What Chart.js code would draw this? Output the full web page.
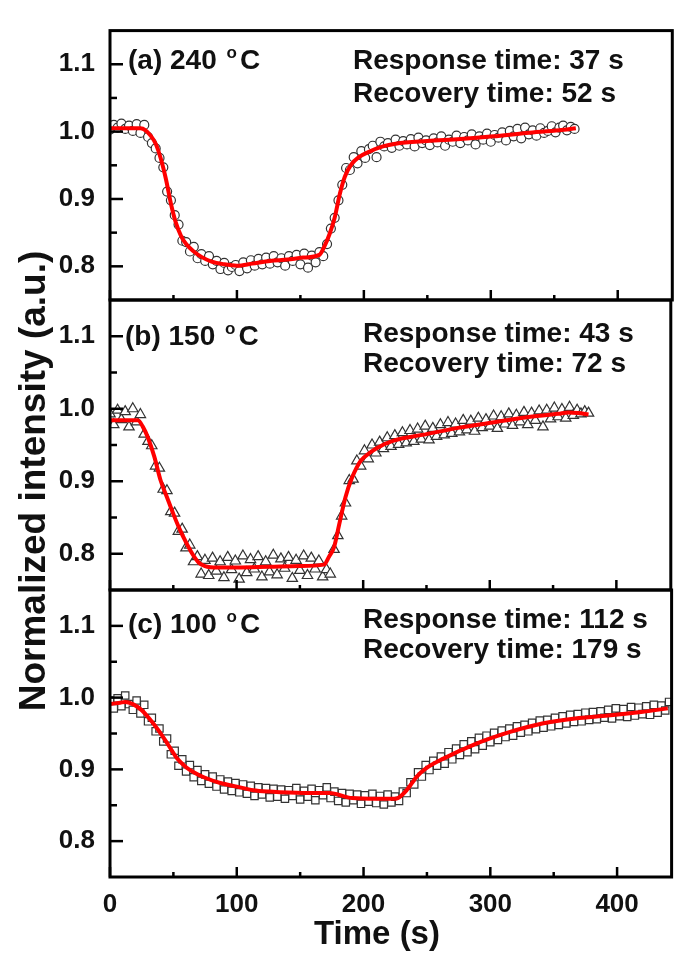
<!DOCTYPE html>
<html><head><meta charset="utf-8">
<script src="https://cdn.jsdelivr.net/npm/chart.js@4/dist/chart.umd.min.js"></script>
<style>
html,body{margin:0;padding:0;background:#fff;}
#wrap{position:relative;width:678px;height:953px;background:#fff;}
#wrap canvas{position:absolute;left:0;top:0;}
</style></head><body>
<div id="wrap">
<canvas id="ca" width="678" height="953"></canvas>
<canvas id="cb" width="678" height="953"></canvas>
<canvas id="cc" width="678" height="953"></canvas>
</div>
<script>
// ---------- data ----------
const timeS = [0,3,6,9,12,15,18,21,24,27,
30,33,36,39,42,45,48,51,54,57,
60,63,66,69,72,75,78,81,84,87,
90,93,96,99,102,105,108,111,114,117,
120,123,126,129,132,135,138,141,144,147,
150,153,156,159,162,165,168,171,174,177,
180,183,186,189,192,195,198,201,204,207,
210,213,216,219,222,225,228,231,234,237,
240,243,246,249,252,255,258,261,264,267,
270,273,276,279,282,285,288,291,294,297,
300,303,306,309,312,315,318,321,324,327,
330,333,336,339,342,345,348,351,354,357,
360,363,366,369,372,375,378,381,384,387,
390,393,396,399,402,405,408,411,414,417,
420,423,426,429,432,435,438,441];

const intensityA = [1.003,1.010,1.006,1.012,1.004,1.009,1.001,1.011,0.998,1.010,
0.992,0.983,0.975,0.961,0.947,0.911,0.898,0.876,0.862,0.838,
0.836,0.822,0.829,0.812,0.818,0.808,0.815,0.803,0.808,0.796,
0.805,0.794,0.799,0.802,0.793,0.806,0.797,0.809,0.801,0.811,
0.803,0.813,0.804,0.815,0.806,0.812,0.801,0.815,0.808,0.817,
0.803,0.819,0.798,0.816,0.806,0.821,0.815,0.833,0.856,0.872,
0.898,0.921,0.946,0.943,0.962,0.953,0.971,0.961,0.974,0.979,
0.962,0.985,0.978,0.983,0.976,0.988,0.979,0.986,0.981,0.989,
0.978,0.991,0.983,0.987,0.980,0.990,0.984,0.993,0.979,0.988,
0.985,0.994,0.983,0.992,0.987,0.996,0.981,0.993,0.988,0.997,
0.985,0.995,0.991,0.999,0.987,1.001,0.993,1.004,0.990,1.006,
0.996,1.002,0.994,1.005,0.998,1.001,1.008,0.999,1.006,1.009,
1.002,1.007,1.004];

const intensityB = [0.993,0.978,0.998,0.985,0.996,0.975,1.000,0.982,0.992,0.965,
0.955,0.949,0.921,0.918,0.889,0.887,0.858,0.856,0.831,0.834,
0.808,0.812,0.789,0.796,0.772,0.791,0.770,0.794,0.776,0.789,
0.767,0.795,0.778,0.790,0.765,0.797,0.774,0.792,0.779,0.796,
0.768,0.789,0.775,0.798,0.771,0.793,0.780,0.795,0.766,0.791,
0.777,0.797,0.770,0.794,0.779,0.790,0.768,0.778,0.772,0.806,
0.825,0.852,0.870,0.901,0.903,0.928,0.921,0.942,0.931,0.950,
0.939,0.954,0.945,0.960,0.948,0.963,0.951,0.967,0.953,0.970,
0.955,0.972,0.958,0.976,0.957,0.973,0.962,0.978,0.964,0.981,
0.966,0.979,0.968,0.984,0.971,0.983,0.969,0.987,0.974,0.985,
0.976,0.990,0.973,0.989,0.979,0.993,0.977,0.991,0.982,0.995,
0.978,0.994,0.984,0.997,0.975,0.998,0.986,1.001,0.989,0.999,
0.987,1.002,0.991,0.998,0.993,0.996,0.994];

const intensityC = [0.996,0.985,0.999,0.988,1.003,0.991,0.983,0.996,0.978,0.990,
0.967,0.972,0.953,0.957,0.939,0.943,0.921,0.926,0.905,0.914,
0.897,0.906,0.889,0.899,0.884,0.893,0.880,0.890,0.876,0.886,
0.872,0.883,0.870,0.881,0.868,0.879,0.866,0.877,0.863,0.875,
0.865,0.874,0.861,0.873,0.862,0.872,0.859,0.871,0.863,0.874,
0.858,0.870,0.862,0.873,0.857,0.871,0.864,0.875,0.860,0.869,
0.856,0.867,0.854,0.866,0.857,0.865,0.852,0.864,0.855,0.866,
0.853,0.863,0.851,0.865,0.854,0.862,0.856,0.869,0.867,0.882,
0.879,0.896,0.890,0.906,0.899,0.912,0.905,0.918,0.908,0.924,
0.914,0.929,0.920,0.935,0.924,0.939,0.928,0.944,0.933,0.947,
0.938,0.951,0.941,0.954,0.945,0.957,0.947,0.960,0.951,0.962,
0.953,0.965,0.956,0.968,0.958,0.969,0.960,0.972,0.962,0.974,
0.964,0.976,0.966,0.977,0.967,0.979,0.969,0.980,0.970,0.981,
0.972,0.983,0.971,0.985,0.974,0.984,0.973,0.987,0.975,0.986,
0.977,0.988,0.976,0.990,0.979,0.989,0.982,0.994];

// fitted curves
const fitTimeA = [0,24,28,32,36,40,44,48,52,56,60,66,72,80,90,100,112,126,140,152,165,169,173,177,181,185,190,196,204,215,225,250,276,302,328,354,367];
const fitA = [1.005,1.005,1.002,0.994,0.982,0.960,0.930,0.893,0.864,0.845,0.833,0.822,0.814,0.807,0.803,0.801,0.804,0.808,0.810,0.813,0.817,0.830,0.848,0.872,0.907,0.933,0.951,0.962,0.970,0.978,0.982,0.986,0.989,0.993,0.998,1.002,1.005];
const fitTimeB = [0,22,26,30,35,40,45,50,55,60,65,70,75,85,100,126,150,169,173,177,181,186,191,198,205,211,224,250,276,302,328,354,362,370,378];
const fitB = [0.984,0.984,0.975,0.960,0.934,0.901,0.878,0.855,0.834,0.816,0.800,0.788,0.783,0.781,0.781,0.782,0.783,0.785,0.796,0.809,0.840,0.878,0.904,0.928,0.939,0.946,0.956,0.965,0.974,0.981,0.988,0.993,0.995,0.994,0.992];
const fitTimeC = [0,8,12,18,24,30,38,46,53,60,66,74,87,100,113,126,152,173,191,211,223,227,234,242,249,263,289,315,341,367,393,419,440];
const fitC = [0.991,0.993,0.994,0.991,0.984,0.973,0.955,0.934,0.915,0.903,0.896,0.889,0.881,0.876,0.871,0.869,0.867,0.867,0.860,0.859,0.859,0.860,0.871,0.890,0.901,0.915,0.936,0.952,0.964,0.971,0.975,0.980,0.985];

const xMajorTicks = [0,100,200,300,400];
const xMinorTicks = [50,150,250,350];
const yMajorTicks = [0.8,0.9,1.0,1.1];
const yMinorTicks = [0.85,0.95,1.05];

const panelLabels = ['(a) 240 ', '(b) 150 ', '(c) 100 '];
const responseTexts = ['Response time: 37 s', 'Response time: 43 s', 'Response time: 112 s'];
const recoveryTexts = ['Recovery time: 52 s', 'Recovery time: 72 s', 'Recovery time: 179 s'];

// ---------- layout ----------
const FONT = '"Liberation Sans", Arial, sans-serif';
const panels = [
  {id:'ca', top:15, bottom:300, series:intensityA, fitT:fitTimeA, fitV:fitA, style:'circle', r:4.5,
   lab:{x:128, dy:38}, ann:{x:353, dy1:38, dy2:71}},
  {id:'cb', top:300, bottom:590, series:intensityB, fitT:fitTimeB, fitV:fitB, style:'triangle', r:6,
   lab:{x:125, dy:45}, ann:{x:363, dy1:42, dy2:72}},
  {id:'cc', top:590, bottom:877, series:intensityC, fitT:fitTimeC, fitV:fitC, style:'rect', r:5.2,
   lab:{x:128, dy:43}, ann:{x:363, dy1:38, dy2:68}, last:true}
];

function line(ctx,x1,y1,x2,y2){ctx.beginPath();ctx.moveTo(x1,y1);ctx.lineTo(x2,y2);ctx.stroke();}

panels.forEach((p, idx) => {
  const deco = {
    id:'deco'+idx,
    afterDraw(chart){
      const ctx = chart.ctx, ca = chart.chartArea, xs = chart.scales.x, ys = chart.scales.y;
      ctx.save();
      ctx.strokeStyle = '#000';
      ctx.lineWidth = 3;
      ctx.strokeRect(ca.left, ca.top, ca.right-ca.left, ca.bottom-ca.top);
      ctx.lineWidth = 2.5;
      yMajorTicks.forEach(v=>{const py=ys.getPixelForValue(v); line(ctx,ca.left,py,ca.left+13,py);});
      yMinorTicks.forEach(v=>{const py=ys.getPixelForValue(v); line(ctx,ca.left,py,ca.left+7,py);});
      xMajorTicks.forEach(v=>{const px=xs.getPixelForValue(v); line(ctx,px,ca.bottom,px,ca.bottom-10);});
      xMinorTicks.forEach(v=>{const px=xs.getPixelForValue(v); line(ctx,px,ca.bottom,px,ca.bottom-5);});
      // panel label with superscript o
      ctx.fillStyle = '#111';
      ctx.textBaseline = 'alphabetic';
      ctx.textAlign = 'left';
      ctx.font = 'bold 28px ' + FONT;
      let x = p.lab.x, y = ca.top + p.lab.dy;
      ctx.fillText(panelLabels[idx], x, y);
      x += ctx.measureText(panelLabels[idx]).width + 2;
      ctx.font = 'bold 17px ' + FONT;
      ctx.fillText('o', x, y - 11);
      x += ctx.measureText('o').width + 3;
      ctx.font = 'bold 28px ' + FONT;
      ctx.fillText('C', x, y);
      // annotations
      ctx.fillText(responseTexts[idx], p.ann.x, ca.top + p.ann.dy1);
      ctx.fillText(recoveryTexts[idx], p.ann.x, ca.top + p.ann.dy2);
      if (p.last) {
        ctx.font = 'bold 33px ' + FONT;
        ctx.textAlign = 'center';
        ctx.fillText('Time (s)', 377, 944);
        ctx.save();
        ctx.translate(45, 481);
        ctx.rotate(-Math.PI/2);
        ctx.font = 'bold 37px ' + FONT;
        ctx.fillText('Normalized intensity (a.u.)', 0, 0);
        ctx.restore();
      }
      ctx.restore();
    }
  };
  const pts = p.series.map((v,i)=>({x:timeS[i], y:v}));
  const fit = p.fitV.map((v,i)=>({x:p.fitT[i], y:v}));
  new Chart(document.getElementById(p.id), {
    type:'scatter',
    data:{datasets:[
      {data:fit, showLine:true, borderColor:'#ff0000', borderWidth:4, pointRadius:0,
       cubicInterpolationMode:'monotone', fill:false},
      {data:pts, pointStyle:p.style, pointRadius:p.r, pointBorderWidth:1.2,
       pointBorderColor:'#333333', pointBackgroundColor:'#ffffff', showLine:false}
    ]},
    options:{
      responsive:false, animation:false, events:[],
      devicePixelRatio:1,
      layout:{padding:{left:0, right:2, top:p.top, bottom: p.last ? 0 : 953 - p.bottom}},
      plugins:{legend:{display:false}, tooltip:{enabled:false}},
      scales:{
        x:{type:'linear', min:0, max:443, display: !!p.last,
           grid:{display:false, drawTicks:false}, border:{display:false},
           afterBuildTicks:(s)=>{s.ticks = xMajorTicks.map(v=>({value:v}));},
           afterFit:(s)=>{ if (p.last) s.height = 953 - p.bottom; else s.height = 0; },
           ticks:{font:{family:FONT, size:26, weight:'bold'}, color:'#111', padding:12, maxRotation:0,
                  callback:(v)=>String(v)}},
        y:{type:'linear', min:0.75, max:1.15,
           grid:{display:false, drawTicks:false}, border:{display:false},
           afterBuildTicks:(s)=>{s.ticks = yMajorTicks.map(v=>({value:v}));},
           afterFit:(s)=>{s.width = 110;},
           ticks:{font:{family:FONT, size:26, weight:'bold'}, color:'#111', padding:15,
                  callback:(v)=>Number(v).toFixed(1)}}
      }
    },
    plugins:[deco]
  });
});
</script>
</body></html>
